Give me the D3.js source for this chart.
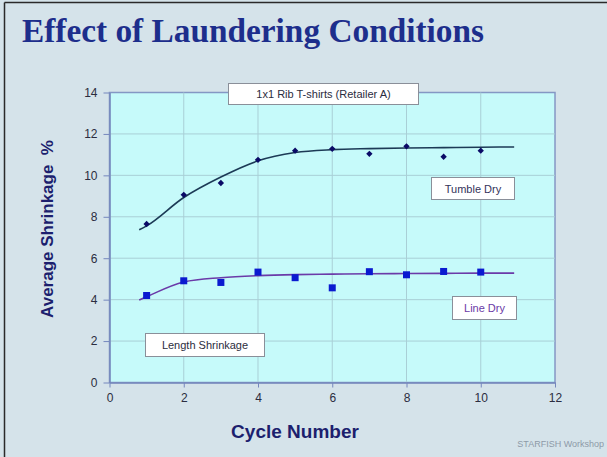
<!DOCTYPE html>
<html>
<head>
<meta charset="utf-8">
<script src="https://cdn.jsdelivr.net/npm/d3@7"></script>
<style>
  html, body { margin: 0; padding: 0; background: #d5e3ea; }
  svg { display: block; }
</style>
</head>
<body>
<div id="chart"></div>
<script>
// measured points
const cycles = [1, 2, 3, 4, 5, 6, 7, 8, 9, 10];
const tumbleDry = [7.65, 9.06, 9.63, 10.75, 11.19, 11.28, 11.04, 11.4, 10.9, 11.19];
const lineDry = [4.2, 4.91, 4.83, 5.33, 5.06, 4.57, 5.35, 5.2, 5.36, 5.33];

// fitted trend curves
const trendX = [0.8, 1, 2, 3, 4, 5, 6, 7, 8, 9, 10, 10.9];
const tumbleTrend = [7.37, 7.56, 8.93, 9.92, 10.7, 11.1, 11.24, 11.29, 11.32, 11.34, 11.36, 11.37];
const lineTrend = [3.98, 4.14, 4.85, 5.06, 5.16, 5.21, 5.23, 5.25, 5.26, 5.27, 5.28, 5.28];

const xTicks = [0, 2, 4, 6, 8, 10, 12];
const yTicks = [0, 2, 4, 6, 8, 10, 12, 14];

const W = 607, H = 457;
const margin = { top: 92.5, right: 52, bottom: 74.5, left: 109.5 };
const width = W - margin.left - margin.right;
const height = H - margin.top - margin.bottom;

const svg = d3.select("#chart")
  .append("svg")
  .attr("width", W)
  .attr("height", H);

// slide background
svg.append("rect")
  .attr("width", W)
  .attr("height", H)
  .attr("fill", "#d5e3ea");

// frame edges (left and top)
svg.append("line")
  .attr("x1", 4.5).attr("x2", 4.5).attr("y1", 2.5).attr("y2", H)
  .attr("stroke", "#2a2a2a").attr("stroke-width", 1.5);
svg.append("line")
  .attr("x1", 4.5).attr("x2", W).attr("y1", 2.5).attr("y2", 2.5)
  .attr("stroke", "#2a2a2a").attr("stroke-width", 1.5);

// title
svg.append("text")
  .attr("x", 22)
  .attr("y", 42)
  .attr("font-family", "'Liberation Serif', 'Times New Roman', serif")
  .attr("font-weight", "bold")
  .attr("font-size", 34)
  .attr("textLength", 462)
  .attr("lengthAdjust", "spacingAndGlyphs")
  .attr("fill", "#1d2e8c")
  .text("Effect of Laundering Conditions");

const x = d3.scaleLinear()
  .domain([0, 12])
  .range([0, width]);

const y = d3.scaleLinear()
  .domain([0, 14])
  .range([height, 0]);

const g = svg.append("g")
  .attr("transform", `translate(${margin.left},${margin.top})`);

// plot area
g.append("rect")
  .attr("width", width)
  .attr("height", height)
  .attr("fill", "#c6fafa")
  .attr("stroke", "#8497c4")
  .attr("stroke-width", 1.5);

// gridlines
g.append("g")
  .selectAll("line")
  .data(yTicks.slice(1, -1))
  .join("line")
  .attr("x1", 0).attr("x2", width)
  .attr("y1", d => y(d)).attr("y2", d => y(d))
  .attr("stroke", "#a9cfd6");

g.append("g")
  .selectAll("line")
  .data(xTicks.slice(1, -1))
  .join("line")
  .attr("y1", 0).attr("y2", height)
  .attr("x1", d => x(d)).attr("x2", d => x(d))
  .attr("stroke", "#a9cfd6");

// Add x-axis
const xAxis = g.append("g")
  .attr("transform", `translate(0,${height})`)
  .call(d3.axisBottom(x).tickValues(xTicks).tickSize(5).tickPadding(6).tickSizeOuter(0));

// Add y-axis
const yAxis = g.append("g")
  .call(d3.axisLeft(y).tickValues(yTicks).tickSize(6).tickPadding(6).tickSizeOuter(0));

[xAxis, yAxis].forEach(ax => {
  ax.select(".domain").attr("stroke", "#7587bd").attr("stroke-width", 1.5);
  ax.selectAll(".tick line").attr("stroke", "#7587bd");
  ax.selectAll(".tick text")
    .attr("font-family", "'Liberation Sans', Arial, sans-serif")
    .attr("font-size", 12)
    .attr("fill", "#2b2d40");
});

// trend lines
const line = d3.line()
  .x(d => x(d[0]))
  .y(d => y(d[1]))
  .curve(d3.curveMonotoneX);

g.append("path")
  .datum(trendX.map((v, i) => [v, tumbleTrend[i]]))
  .attr("fill", "none")
  .attr("stroke", "#1c3a56")
  .attr("stroke-width", 1.6)
  .attr("d", line);

g.append("path")
  .datum(trendX.map((v, i) => [v, lineTrend[i]]))
  .attr("fill", "none")
  .attr("stroke", "#6b3aa8")
  .attr("stroke-width", 1.6)
  .attr("d", line);

// tumble dry diamonds
g.append("g")
  .selectAll("path")
  .data(cycles.map((c, i) => [c, tumbleDry[i]]))
  .join("path")
  .attr("transform", d => `translate(${x(d[0])},${y(d[1])}) rotate(45)`)
  .attr("d", d3.symbol(d3.symbolSquare, 20))
  .attr("fill", "#0a0a66");

// line dry squares
g.append("g")
  .selectAll("rect")
  .data(cycles.map((c, i) => [c, lineDry[i]]))
  .join("rect")
  .attr("x", d => x(d[0]) - 3.5)
  .attr("y", d => y(d[1]) - 3.5)
  .attr("width", 7)
  .attr("height", 7)
  .attr("fill", "#0a1ad0");

// label boxes
const labels = [
  { text: "1x1 Rib T-shirts (Retailer A)", x: 228, y: 83, w: 190, h: 21, color: "#2b2d40" },
  { text: "Tumble Dry", x: 431, y: 177, w: 83, h: 22, color: "#33335a" },
  { text: "Line Dry", x: 452, y: 296, w: 64, h: 23, color: "#6a3aa6" },
  { text: "Length Shrinkage", x: 145, y: 333, w: 119, h: 23, color: "#2b2d40" }
];

labels.forEach(l => {
  svg.append("rect")
    .attr("x", l.x + 0.5).attr("y", l.y + 0.5)
    .attr("width", l.w).attr("height", l.h)
    .attr("fill", "#ffffff")
    .attr("stroke", "#8a8f99");
  svg.append("text")
    .attr("x", l.x + l.w / 2 + 0.5)
    .attr("y", l.y + l.h / 2 + 4.5)
    .attr("text-anchor", "middle")
    .attr("font-family", "'Liberation Sans', Arial, sans-serif")
    .attr("font-size", 11)
    .attr("fill", l.color)
    .text(l.text);
});

// axis titles
svg.append("text")
  .attr("x", 295)
  .attr("y", 438)
  .attr("text-anchor", "middle")
  .attr("font-family", "'Liberation Sans', Arial, sans-serif")
  .attr("font-weight", "bold")
  .attr("font-size", 19)
  .attr("fill", "#1c1f6e")
  .text("Cycle Number");

svg.append("text")
  .attr("transform", "translate(53,229) rotate(-90)")
  .attr("text-anchor", "middle")
  .attr("font-family", "'Liberation Sans', Arial, sans-serif")
  .attr("font-weight", "bold")
  .attr("font-size", 17)
  .attr("fill", "#1c1f6e")
  .attr("xml:space", "preserve")
  .text("Average Shrinkage  %");

// footer
svg.append("text")
  .attr("x", 604)
  .attr("y", 447)
  .attr("text-anchor", "end")
  .attr("font-family", "'Liberation Sans', Arial, sans-serif")
  .attr("font-size", 9)
  .attr("fill", "#8d9aa8")
  .text("STARFISH Workshop");
</script>
</body>
</html>
